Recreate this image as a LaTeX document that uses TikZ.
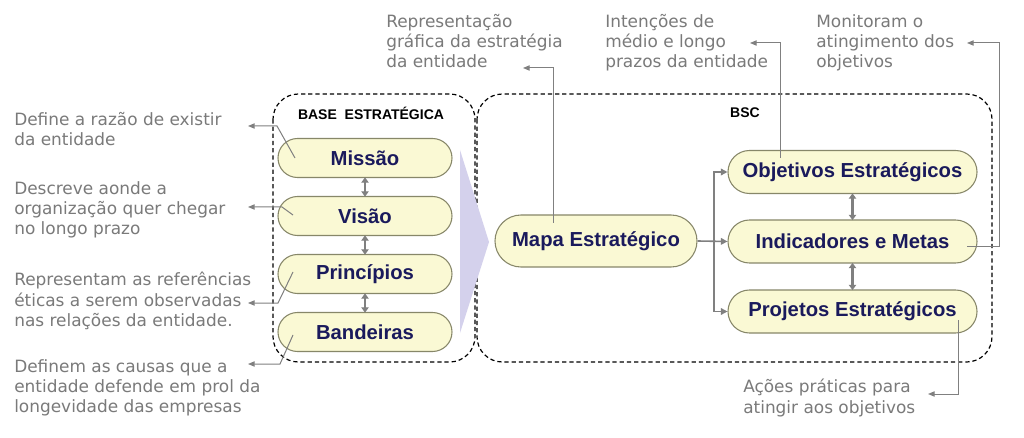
\documentclass[tikz,border=0pt]{standalone}
\usepackage{fontspec}
\setmainfont{Liberation Sans}
\newfontfamily\verd{DejaVu Sans}
\usetikzlibrary{arrows.meta,calc}
\definecolor{pillfill}{RGB}{250,249,212}
\definecolor{pilldraw}{RGB}{135,135,105}
\definecolor{navy}{RGB}{26,26,92}
\definecolor{annot}{RGB}{122,122,122}
\definecolor{linegray}{RGB}{128,128,128}
\definecolor{lavender}{RGB}{212,209,236}
\tikzset{
  pill/.style={rectangle, draw=pilldraw, line width=0.8pt, fill=pillfill, inner sep=0pt,
    text=navy, font=\fontsize{15.2}{18}\selectfont\bfseries},
  smallpill/.style={pill, minimum width=130.5pt, minimum height=29.25pt, rounded corners=14.6pt},
  bscpill/.style={pill, minimum width=186.75pt, minimum height=32.25pt, rounded corners=16.1pt},
  annottext/.style={anchor=north west, inner sep=0pt, align=left, text=annot,
    font=\verd\fontsize{12.7}{15.2}\selectfont},
  annotarrow/.style={draw=linegray, line width=0.75pt, -{Triangle[length=5pt,width=4pt]}},
  dbl/.style={draw=linegray, line width=2pt, {Triangle[length=4pt,width=5.5pt]}-{Triangle[length=4pt,width=5.5pt]}, shorten <=-0.5pt, shorten >=-0.5pt},
  conn/.style={draw=linegray, line width=1.2pt, -{Triangle[length=5pt,width=5pt]}},
  group/.style={draw=black, line width=0.9pt, dash pattern=on 3.2pt off 2.2pt, rounded corners=19pt},
  grouplabel/.style={inner sep=0pt, font=\fontsize{10.5}{12}\selectfont\bfseries}
}
\begin{document}
\begin{tikzpicture}[x=0.75pt,y=-0.75pt]
\useasboundingbox[fill=white] (0,0) rectangle (1024,438);

% dashed group boxes
\draw[group] (273,94) rectangle (475,362);
\draw[group] (477,94) rectangle (992,362);
\node[grouplabel] (lbase) at (371,113) {BASE\ \ ESTRATÉGICA};
\node[grouplabel] (lbsc) at (745,113) {BSC};

% lavender arrow
\fill[lavender] (460,150) -- (489,242) -- (460,333) -- cycle;

% base nodes
\node[smallpill] (mis) at (365,158) {Missão};
\node[smallpill] (vis) at (365,216) {Visão};
\node[smallpill] (pri) at (365,274) {Princípios};
\node[smallpill] (ban) at (365,332) {Bandeiras};

\draw[dbl] (mis.south) -- (vis.north);
\draw[dbl] (vis.south) -- (pri.north);
\draw[dbl] (pri.south) -- (ban.north);

% BSC nodes
\node[pill, minimum width=151.5pt, minimum height=39pt, rounded corners=19.5pt] (map) at (596,241) {Mapa Estratégico};
\node[bscpill] (obj) at (852.5,172) {Objetivos Estratégicos};
\node[bscpill] (ind) at (852.5,241.5) {Indicadores e Metas};
\node[bscpill] (pro) at (852.5,311.5) {Projetos Estratégicos};

\coordinate (br) at (714,241.5);
\draw[conn] (map.east) -- (ind.west);
\draw[conn] (br) |- (obj.west);
\draw[conn] (br) |- (pro.west);
\draw[dbl] (obj.south) -- (ind.north);
\draw[dbl] (ind.south) -- (pro.north);

% annotation texts
\node[annottext] (tmis) at (14,112) {Define a razão de existir\\da entidade};
\node[annottext] (tvis) at (14,181) {Descreve aonde a\\organização quer chegar\\no longo prazo};
\node[annottext] (tpri) at (14,272) {Representam as referências\\éticas a serem observadas\\nas relações da entidade.};
\node[annottext] (tban) at (14,359) {Definem as causas que a\\entidade defende em prol da\\longevidade das empresas};
\node[annottext] (tmap) at (386,14) {Representação\\gráfica da estratégia\\da entidade};
\node[annottext] (tobj) at (605,14) {Intenções de\\médio e longo\\prazos da entidade};
\node[annottext] (tind) at (816,14) {Monitoram o\\atingimento dos\\objetivos};
\node[annottext] (tpro) at (743,379) {Ações práticas para\\atingir aos objetivos};

% annotation connectors
\coordinate (smis) at (295,158);
\coordinate (emis) at (248,126);
\draw[annotarrow] (smis) -- (277,126) -- (emis);
\coordinate (svis) at (293,215);
\coordinate (evis) at (248,207);
\draw[annotarrow] (svis) -- (282,207) -- (evis);
\coordinate (spri) at (293,272);
\coordinate (epri) at (248,303);
\draw[annotarrow] (spri) -- (278,303) -- (epri);
\coordinate (sban) at (293,335);
\coordinate (eban) at (248,364);
\draw[annotarrow] (sban) -- (280,364) -- (eban);

\coordinate (smap) at (553,223);
\coordinate (emap) at (523,68);
\draw[annotarrow] (smap) |- (emap);
\coordinate (sobj) at (780,158);
\coordinate (eobj) at (750,43);
\draw[annotarrow] (sobj) |- (eobj);
\coordinate (sind) at (967,247);
\coordinate (eind) at (967,43);
\draw[annotarrow] (sind) -- (999,247) -- (999,43) -- (eind);
\coordinate (spro) at (958,320);
\coordinate (epro) at (928,394);
\draw[annotarrow] (spro) |- (epro);
\end{tikzpicture}
\end{document}
